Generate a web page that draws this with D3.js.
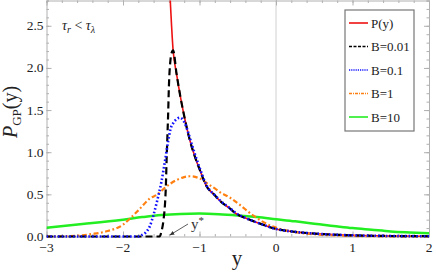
<!DOCTYPE html>
<html>
<head>
<meta charset="utf-8" />
<style>
body { margin: 0; background: #fff; }
text { font-family: "Liberation Serif", "DejaVu Serif", serif; fill: #222; }
.frame path, .frame line { stroke: #b0b0b0; }
.curve { fill: none; }
</style>
</head>
<body>
<script src="https://cdn.jsdelivr.net/npm/d3@7/dist/d3.min.js"></script>
<script>
// values: [y, P]
var pLimit = [[-1.39,2.95],[-1.345,2.21],[-1.30,1.93],[-1.25,1.66],[-1.20,1.43],[-1.127,1.145],[-1.05,0.92],
  [-1.0,0.80],[-0.91,0.60],[-0.8,0.49],[-0.74,0.43],[-0.6,0.33],[-0.52,0.27],[-0.4,0.22],[-0.2,0.15],
  [0,0.09],[0.25,0.055],[0.5,0.035],[0.75,0.022],[1.0,0.014],[1.5,0.006],[2.0,0.003]];
var b001 = [[-3,0],[-1.52,0],[-1.50,0.05],[-1.47,0.20],[-1.45,0.40],[-1.44,0.59],[-1.43,0.91],[-1.42,1.18],
  [-1.41,1.45],[-1.40,1.78],[-1.38,2.09],[-1.36,2.19],[-1.345,2.21],[-1.30,1.93],[-1.25,1.66],[-1.20,1.43],
  [-1.127,1.145],[-1.05,0.92],[-1.0,0.80],[-0.91,0.60],[-0.8,0.49],[-0.74,0.43],[-0.6,0.33],[-0.52,0.27],
  [-0.4,0.22],[-0.2,0.15],[0,0.09],[0.25,0.055],[0.5,0.035],[0.75,0.022],[1.0,0.014],[1.5,0.006],[2.0,0.003]];
var b01 = [[-3,0],[-1.8,0],[-1.75,0.02],[-1.7,0.05],[-1.65,0.12],[-1.6,0.26],[-1.56,0.40],[-1.5,0.64],
  [-1.45,0.90],[-1.41,1.13],[-1.38,1.27],[-1.34,1.35],[-1.3,1.39],[-1.26,1.41],[-1.2,1.36],[-1.15,1.24],
  [-1.1,1.09],[-1.0,0.82],[-0.91,0.61],[-0.8,0.49],[-0.74,0.435],[-0.6,0.335],[-0.52,0.275],[-0.4,0.22],
  [-0.2,0.15],[0,0.09],[0.25,0.055],[0.5,0.035],[0.75,0.022],[1.0,0.014],[1.5,0.006],[2.0,0.003]];
var b1 = [[-3,0],[-2.8,0.003],[-2.6,0.01],[-2.4,0.03],[-2.2,0.065],[-2.0,0.14],[-1.9,0.22],[-1.8,0.31],
  [-1.65,0.45],[-1.55,0.50],[-1.45,0.58],[-1.3,0.67],[-1.2,0.705],[-1.13,0.715],[-1.0,0.69],[-0.9,0.63],
  [-0.8,0.57],[-0.74,0.53],[-0.6,0.46],[-0.48,0.38],[-0.3,0.25],[-0.2,0.19],[-0.1,0.14],[0,0.105],
  [0.2,0.06],[0.4,0.035],[0.6,0.02],[0.8,0.012],[1.0,0.007],[1.5,0.002],[2.0,0.001]];
var b10 = [[-3,0.105],[-2.5,0.15],[-2,0.20],[-1.75,0.23],[-1.5,0.255],[-1.25,0.268],[-1.0,0.272],
  [-0.75,0.265],[-0.5,0.25],[-0.25,0.23],[0,0.205],[0.25,0.18],[0.5,0.15],[0.75,0.125],[1.0,0.10],
  [1.25,0.08],[1.5,0.06],[1.75,0.048],[2.0,0.038]];

var xTicks = [-3, -2, -1, 0, 1, 2];
var yTicks = [0, 0.5, 1.0, 1.5, 2.0, 2.5];
var legendLabels = ["P(y)", "B=0.01", "B=0.1", "B=1", "B=10"];

var width = 436, height = 272;
var plotL = 46.5, plotR = 429, plotT = 0.5, plotB = 236.5;

var svg = d3.select("body").append("svg")
    .attr("width", width)
    .attr("height", height);

var x = d3.scaleLinear().domain([-3, 2]).range([plotL, plotR]);
var y = d3.scaleLinear().domain([0, 2.8]).range([plotB, plotT]);

var xMinor = d3.range(-3, 2.001, 0.2);
var yMinor = d3.range(0, 2.801, 0.1);

// zero axis line
svg.append("line")
    .attr("x1", x(0)).attr("x2", x(0))
    .attr("y1", plotT).attr("y2", plotB)
    .attr("stroke", "#d0d0d0").attr("stroke-width", 1);

// frame with inward ticks
function frameAxis(make, tr, minor, major) {
    svg.append("g").attr("class", "frame").attr("transform", tr)
        .call(make().tickValues(minor).tickSize(-2.5).tickFormat(""));
    var gMaj = svg.append("g").attr("class", "frame").attr("transform", tr)
        .call(make().tickValues(major).tickSize(-5).tickFormat(""));
    gMaj.select(".domain").remove();
}
frameAxis(function() { return d3.axisBottom(x); }, "translate(0," + plotB + ")", xMinor, xTicks);
frameAxis(function() { return d3.axisTop(x); }, "translate(0," + plotT + ")", xMinor, xTicks);
frameAxis(function() { return d3.axisLeft(y); }, "translate(" + plotL + ",0)", yMinor, yTicks);
frameAxis(function() { return d3.axisRight(y); }, "translate(" + plotR + ",0)", yMinor, yTicks);

// tick labels
svg.selectAll(".xlab").data(xTicks).enter().append("text")
    .attr("x", function(d) { return x(d); })
    .attr("y", 252)
    .attr("text-anchor", "middle")
    .style("font-size", "13.5px")
    .text(function(d) { return d < 0 ? "\u2212" + Math.abs(d) : d; });

svg.selectAll(".ylab").data(yTicks).enter().append("text")
    .attr("x", 43.5)
    .attr("y", function(d) { return y(d) + 4.5; })
    .attr("text-anchor", "end")
    .style("font-size", "13.5px")
    .text(function(d) { return d.toFixed(1); });

// curves
svg.append("clipPath").attr("id", "plot")
  .append("rect").attr("x", plotL).attr("y", plotT)
    .attr("width", plotR - plotL).attr("height", plotB - plotT + 2);

var line = d3.line()
    .x(function(d) { return x(d[0]); })
    .y(function(d) { return y(d[1]); })
    .curve(d3.curveMonotoneX);

var series = [
    {data: b10, color: "#22ee22", width: 2.5, dash: null},
    {data: pLimit, color: "#ee1111", width: 1.6, dash: null},
    {data: b1, color: "#ff8010", width: 2.2, dash: "5,2.5,1.8,2.5"},
    {data: b001, color: "#000000", width: 2.2, dash: "7,4"},
    {data: b01, color: "#1010ff", width: 2.6, dash: "1.6,2.2"}
];

var curves = svg.append("g").attr("clip-path", "url(#plot)");
curves.selectAll("path").data(series).enter().append("path")
    .attr("class", "curve")
    .attr("d", function(d) { return line(d.data); })
    .attr("stroke", function(d) { return d.color; })
    .attr("stroke-width", function(d) { return d.width; })
    .attr("stroke-dasharray", function(d) { return d.dash; });

// annotations
var tau = svg.append("text").attr("x", 62).attr("y", 30).style("font-size", "14px");
tau.append("tspan").style("font-style", "italic").text("\u03c4");
tau.append("tspan").attr("dy", 3).style("font-size", "10px").style("font-style", "italic").text("r");
tau.append("tspan").attr("dy", -3).text(" < ");
tau.append("tspan").style("font-style", "italic").text("\u03c4");
tau.append("tspan").attr("dy", 3).style("font-size", "10px").style("font-style", "italic").text("\u03bb");

var ys = svg.append("text").attr("x", 191).attr("y", 229).style("font-size", "15px").style("fill", "#333");
ys.append("tspan").text("y");
ys.append("tspan").attr("dy", -5).style("font-size", "11px").text("*");

svg.append("defs").append("marker")
    .attr("id", "arrow").attr("viewBox", "0 0 10 10")
    .attr("refX", 9).attr("refY", 5)
    .attr("markerWidth", 6).attr("markerHeight", 6)
    .attr("orient", "auto")
  .append("path").attr("d", "M0,1L10,5L0,9Z").attr("fill", "#333");

svg.append("line")
    .attr("x1", 188).attr("y1", 224)
    .attr("x2", 170).attr("y2", 235)
    .attr("stroke", "#333").attr("stroke-width", 0.8)
    .attr("marker-end", "url(#arrow)");

// axis titles
svg.append("text")
    .attr("x", 237).attr("y", 265)
    .attr("text-anchor", "middle")
    .style("font-size", "21px")
    .text("y");

var yt = svg.append("text")
    .attr("transform", "translate(17,112) rotate(-90)")
    .attr("text-anchor", "middle")
    .style("font-size", "20px");
yt.append("tspan").style("font-style", "italic").text("P");
yt.append("tspan").attr("dy", 4).style("font-size", "13px").text("GP");
yt.append("tspan").attr("dy", -4).text("(y)");

// legend
var lg = svg.append("g").attr("transform", "translate(345,10)");
lg.append("rect")
    .attr("width", 69).attr("height", 121)
    .attr("fill", "#fff").attr("stroke", "#777").attr("stroke-width", 1.2);

var legendOrder = [series[1], series[3], series[4], series[2], series[0]];
var items = lg.selectAll(".item").data(legendOrder).enter().append("g")
    .attr("transform", function(d, i) { return "translate(0," + (13 + i * 23.5) + ")"; });
items.append("line")
    .attr("x1", 4).attr("x2", 23)
    .attr("stroke", function(d) { return d.color; })
    .attr("stroke-width", function(d) { return Math.min(d.width, 1.6); })
    .attr("stroke-dasharray", function(d, i) { return i == 1 ? "3,1.5" : (i == 2 ? "1.2,1" : (i == 3 ? "3,1,1,1" : null)); });
items.append("text")
    .attr("x", 26).attr("y", 4.5)
    .style("font-size", "13px")
    .text(function(d, i) { return legendLabels[i]; });
</script>
</body>
</html>
